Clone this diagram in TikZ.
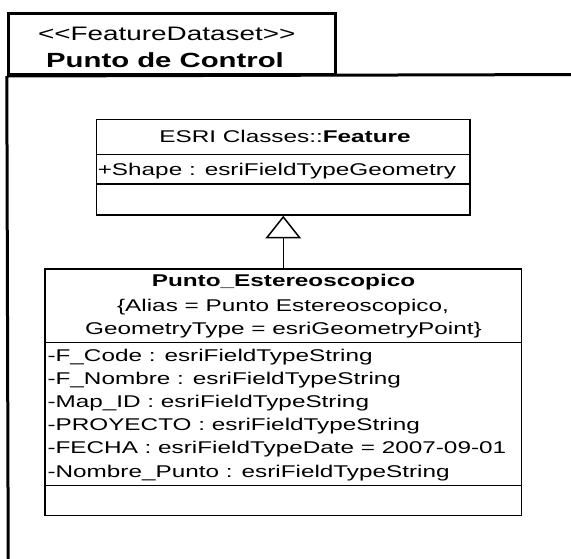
\documentclass[tikz,border=0pt]{standalone}
\usepackage{fontspec}
\setmainfont{Liberation Sans}[FakeStretch=1.43]
\usetikzlibrary{arrows.meta}
% angle brackets kept apart so the TeX mapping does not turn them into guillemets
\newcommand{\lguil}{<\kern0pt<}
\newcommand{\rguil}{>\kern0pt>}
\begin{document}
\begin{tikzpicture}[x=1pt,y=-1pt,
  pkgline/.style={line width=3pt},
  clsline/.style={line width=1.5pt},
  clsbox/.style={draw, clsline, inner sep=0pt},
  txt/.style={inner sep=0pt, anchor=base, font=\fontsize{17}{20}\selectfont},
  ltxt/.style={txt, anchor=base west},
  inherit/.style={clsline, -{Triangle[open, length=22.7pt, width=35.6pt]}},
]
\useasboundingbox (0,0) rectangle (571,558);
\clip (0,0) rectangle (571,558);

% package frame with its name tab
\node[draw, pkgline, inner sep=0pt, minimum width=327.2pt, minimum height=60.7pt] (tab) at (171.9,44.15) {};
\coordinate (pkgright) at (590,74.5);
\coordinate (pkgbottom) at (8.3,590);
\draw[pkgline] (tab.south west) -- (pkgright);
\draw[pkgline] (tab.south west) -- (pkgbottom);
\node[txt, font=\fontsize{19.5}{22}\selectfont] (stereotype) at (166.7,40.5) {\lguil FeatureDataset\rguil};
\node[txt, font=\fontsize{20.5}{22}\selectfont\bfseries] (pkgname) at (165,67) {Punto de Control};

% superclass Feature
\node[clsbox, minimum width=373.5pt, minimum height=95.5pt] (feat) at (283.25,167.25) {};
\draw[clsline] (96.5,154.7) -- (470,154.7);
\draw[clsline] (96.5,184) -- (470,184);
\node[txt] (featname) at (285,142.3) {ESRI Classes::\textbf{Feature}};
\node[ltxt] (featshape) at (97.6,175.7) {+Shape : esriFieldTypeGeometry};

% class Punto_Estereoscopico
\node[clsbox, minimum width=476.5pt, minimum height=246.7pt] (punto) at (283.25,392.35) {};
\draw[clsline] (45,342.3) -- (521.5,342.3);
\draw[clsline] (45,485.3) -- (521.5,485.3);
\node[txt, font=\fontsize{17}{20}\selectfont\bfseries] (puntoname) at (283.5,286.7) {Punto\_Estereoscopico};
\node[txt] (puntoalias) at (283,311) {\{Alias = Punto Estereoscopico,};
\node[txt] (puntogeom) at (283.5,334) {GeometryType = esriGeometryPoint\}};
\node[ltxt] (a1) at (47.3,361) {-F\_Code : esriFieldTypeString};
\node[ltxt] (a2) at (47.3,384.2) {-F\_Nombre : esriFieldTypeString};
\node[ltxt] (a3) at (47.3,407.4) {-Map\_ID : esriFieldTypeString};
\node[ltxt] (a4) at (47.3,430.6) {-PROYECTO : esriFieldTypeString};
\node[ltxt] (a5) at (47.3,453.8) {-FECHA : esriFieldTypeDate = 2007-09-01};
\node[ltxt] (a6) at (47.3,477) {-Nombre\_Punto : esriFieldTypeString};

% generalization
\draw[inherit] (punto.north) -- (feat.south);
\end{tikzpicture}
\end{document}
